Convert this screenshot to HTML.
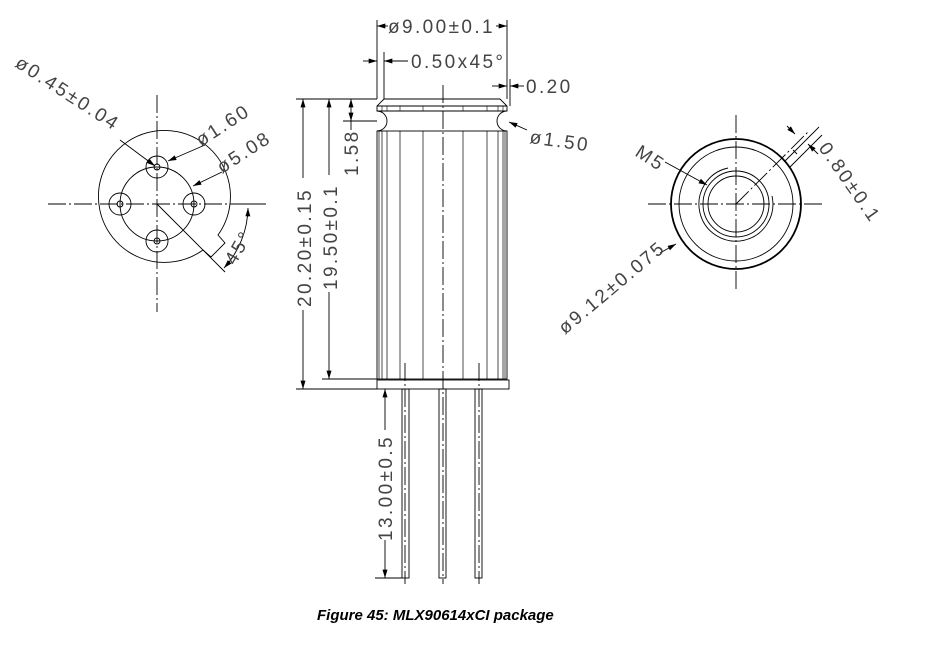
<!DOCTYPE html>
<html><head><meta charset="utf-8"><style>
html,body{margin:0;padding:0;background:#fff}
svg{display:block}
text{font-family:"Liberation Sans",sans-serif;fill:#444}
.d{font-size:19px;letter-spacing:2.4px}
</style></head><body>
<svg width="940" height="648" viewBox="0 0 940 648" xmlns="http://www.w3.org/2000/svg">
<defs>
<marker id="a" viewBox="0 0 10 6" refX="10" refY="3" markerWidth="9" markerHeight="5" orient="auto-start-reverse" markerUnits="userSpaceOnUse"><path d="M0,0L10,3L0,6z" fill="#000"/></marker>
</defs>
<g stroke="#000" fill="none" stroke-width="0.9">
<!-- LEFT VIEW -->
<g stroke-dasharray="18,3,2,3">
<line x1="157" y1="95" x2="157" y2="312"/>
<line x1="48" y1="204" x2="266" y2="204"/>
</g>
<path d="M203,250 A66,66 0 1 1 218,235 L225,243 L211,257 Z"/>
<circle cx="157" cy="204" r="37"/>
<circle cx="157" cy="167" r="11"/><circle cx="157" cy="167" r="3"/>
<circle cx="120" cy="204" r="11"/><circle cx="120" cy="204" r="3"/>
<circle cx="194" cy="204" r="11"/><circle cx="194" cy="204" r="3"/>
<circle cx="157" cy="241" r="11"/><circle cx="157" cy="241" r="3"/>
<line x1="157" y1="204" x2="225" y2="272"/>
<line x1="120" y1="140" x2="155" y2="166" marker-end="url(#a)"/>
<line x1="205" y1="145" x2="168" y2="161" marker-end="url(#a)"/>
<line x1="222" y1="172" x2="193" y2="186" marker-end="url(#a)"/>
<path d="M248,208 A91,91 0 0 1 224,268" marker-start="url(#a)" marker-end="url(#a)"/>
<line x1="240" y1="204" x2="266" y2="204"/>
<!-- CENTER VIEW -->
<g stroke-dasharray="18,3,2,3">
<line x1="443" y1="85" x2="443" y2="584"/>
<line x1="405" y1="363" x2="405" y2="584"/>
<line x1="479" y1="363" x2="479" y2="584"/>
</g>
<path d="M377,111 L377,106 L384,99 L500,99 L507,106 L507,111 Z"/>
<line x1="377" y1="106" x2="507" y2="106"/>
<g stroke-width="0.6">
<line x1="382" y1="106" x2="382" y2="111"/><line x1="387" y1="106" x2="387" y2="111"/><line x1="400" y1="106" x2="400" y2="111"/><line x1="423" y1="106" x2="423" y2="111"/><line x1="463" y1="106" x2="463" y2="111"/><line x1="487" y1="106" x2="487" y2="111"/><line x1="498" y1="106" x2="498" y2="111"/><line x1="503" y1="106" x2="503" y2="111"/>
</g>
<path d="M377,111 A10,10 0 0 1 377,131"/>
<path d="M507,111 A10,10 0 0 0 507,131"/>
<rect x="377" y="131" width="130" height="248"/>
<g stroke-width="0.7">
<line x1="379" y1="131" x2="379" y2="379"/><line x1="382" y1="131" x2="382" y2="379"/><line x1="387" y1="131" x2="387" y2="379"/><line x1="400" y1="131" x2="400" y2="379"/><line x1="423" y1="131" x2="423" y2="379"/><line x1="463" y1="131" x2="463" y2="379"/><line x1="487" y1="131" x2="487" y2="379"/><line x1="498" y1="131" x2="498" y2="379"/><line x1="503" y1="131" x2="503" y2="379"/><line x1="505" y1="131" x2="505" y2="379"/>
</g>
<rect x="377" y="380" width="132" height="9"/>
<rect x="402" y="389" width="7" height="189"/>
<rect x="439" y="389" width="7" height="189"/>
<rect x="475" y="389" width="7" height="189"/>
<!-- dims center -->
<line x1="377" y1="20" x2="377" y2="99"/><line x1="507" y1="20" x2="507" y2="99"/>
<line x1="377" y1="26" x2="388" y2="26" marker-start="url(#a)"/>
<line x1="496" y1="26" x2="507" y2="26" marker-end="url(#a)"/>
<line x1="384" y1="52" x2="384" y2="99"/>
<line x1="363" y1="61" x2="377" y2="61" marker-end="url(#a)"/>
<line x1="384" y1="61" x2="408" y2="61" marker-start="url(#a)"/>
<line x1="510" y1="79" x2="510" y2="106"/>
<line x1="492" y1="86" x2="507" y2="86" marker-end="url(#a)"/>
<line x1="510" y1="86" x2="524" y2="86" marker-start="url(#a)"/>
<line x1="509" y1="122" x2="527" y2="130" marker-start="url(#a)"/>
<line x1="296" y1="99" x2="377" y2="99"/>
<line x1="296" y1="389" x2="377" y2="389"/>
<line x1="322" y1="379" x2="377" y2="379"/>
<line x1="343" y1="121" x2="377" y2="121"/>
<line x1="303" y1="99" x2="303" y2="178" marker-start="url(#a)"/>
<line x1="303" y1="310" x2="303" y2="389" marker-end="url(#a)"/>
<line x1="329" y1="99" x2="329" y2="175" marker-start="url(#a)"/>
<line x1="329" y1="292" x2="329" y2="379" marker-end="url(#a)"/>
<line x1="351" y1="99" x2="351" y2="121" marker-start="url(#a)" marker-end="url(#a)"/>
<line x1="351" y1="121" x2="351" y2="130"/>
<line x1="385" y1="389" x2="385" y2="430" marker-start="url(#a)"/>
<line x1="385" y1="540" x2="385" y2="578" marker-end="url(#a)"/>
<line x1="375" y1="578" x2="402" y2="578"/>
<!-- RIGHT VIEW -->
<g stroke-dasharray="18,3,2,3">
<line x1="736" y1="115" x2="736" y2="292"/>
<line x1="648" y1="204" x2="825" y2="204"/>
<line x1="736" y1="204" x2="808" y2="132"/>
</g>
<circle cx="736" cy="204" r="65" stroke-width="1.8"/>
<circle cx="736" cy="204" r="57"/>
<circle cx="736" cy="204" r="28"/>
<circle cx="736" cy="204" r="33"/>
<path d="M728,168 A37,37 0 1 0 772,196"/>
<line x1="785" y1="161" x2="799" y2="147"/><line x1="790" y1="167" x2="804" y2="153"/>
<line x1="793" y1="150" x2="797" y2="154"/>
<line x1="799" y1="147" x2="819" y2="127"/><line x1="804" y1="153" x2="822" y2="135"/>
<line x1="787" y1="126" x2="795" y2="134" marker-end="url(#a)"/>
<line x1="818" y1="154" x2="808" y2="144" marker-end="url(#a)"/>
<line x1="665" y1="162" x2="707" y2="185" marker-end="url(#a)"/>
<line x1="660" y1="253" x2="676" y2="244" marker-end="url(#a)"/>
</g>
<g class="d">
<text x="388" y="33">ø9.00±0.1</text>
<text x="411" y="68">0.50x45°</text>
<text x="526" y="93">0.20</text>
<text x="529" y="143" transform="rotate(8 529 143)">ø1.50</text>
<text transform="translate(311,307) rotate(-90)">20.20±0.15</text>
<text transform="translate(337,290) rotate(-90)">19.50±0.1</text>
<text transform="translate(358,176) rotate(-90)">1.58</text>
<text transform="translate(392,541) rotate(-90)">13.00±0.5</text>
<text transform="translate(14,66) rotate(33)">ø0.45±0.04</text>
<text transform="translate(201,147) rotate(-33)">ø1.60</text>
<text transform="translate(222,174) rotate(-33)">ø5.08</text>
<text transform="translate(235,266) rotate(-60)">45°</text>
<text transform="translate(634,155) rotate(33)">M5</text>
<text transform="translate(818,148) rotate(55)">0.80±0.1</text>
<text transform="translate(565,335) rotate(-40)">ø9.12±0.075</text>
</g>
<text x="317" y="620" font-size="15" font-weight="bold" font-style="italic" style="fill:#000">Figure 45: MLX90614xCI package</text>
</svg>
</body></html>
